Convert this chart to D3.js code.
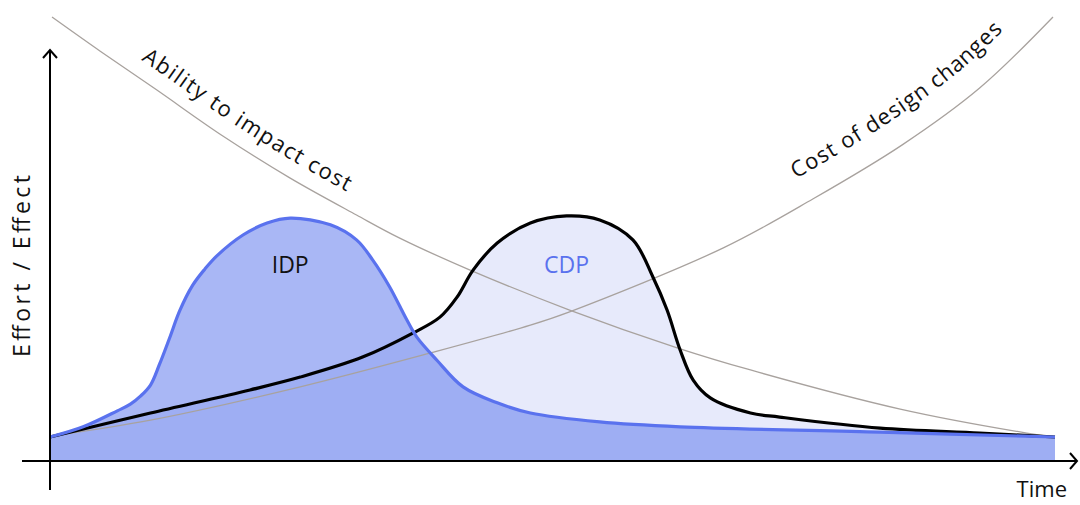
<!DOCTYPE html>
<html>
<head>
<meta charset="utf-8">
<script src="https://cdn.jsdelivr.net/npm/d3@7"></script>
<style>
  html, body { margin: 0; padding: 0; background: #ffffff; }
  svg { display: block; font-family: "Open Sans", "Lato", sans-serif; }
</style>
</head>
<body>
<svg id="chart" width="1080" height="505"></svg>
<script>
// Time runs 0..100 along the x axis, effort / effect 0..100 up the y axis.

// IDP (integrated design process) effort curve
const idpTime   = [0, 3.3, 6.7, 8.0, 9.0, 10.0, 10.9, 11.9, 12.9, 14.2, 15.4, 16.6, 19.2, 21.6, 23.9, 27.9, 30.5, 32.1, 33.8, 35.5, 36.5, 38.5, 41.1, 44.5, 47.8, 54.7, 62.7, 82.6, 100];
const idpEffort = [5.4, 7.7, 11.3, 12.8, 14.6, 17.1, 21.8, 27.7, 33.8, 39.6, 43.2, 46.2, 50.9, 53.6, 54.7, 53.2, 49.8, 45.3, 39.2, 31.8, 27.9, 22.7, 16.7, 13.1, 10.8, 8.8, 7.7, 6.5, 5.4];

// CDP (conventional design process) effort curve
const cdpTime   = [0, 10.0, 19.9, 24.9, 31.1, 36.1, 38.8, 40.5, 42.1, 44.5, 47.8, 51.4, 54.7, 58.0, 60.0, 61.4, 62.7, 64.0, 65.7, 69.7, 72.6, 82.6, 92.5, 100];
const cdpEffort = [5.4, 10.8, 16.0, 18.9, 23.4, 28.8, 32.4, 36.9, 43.0, 49.1, 53.6, 55.2, 54.3, 49.8, 41.4, 34.0, 25.0, 18.2, 14.2, 10.8, 9.9, 7.4, 6.3, 5.4];

// "Ability to impact cost" (falling)
const impactTime  = [0.2, 5.0, 10.6, 17.2, 23.9, 30.5, 34.8, 41.8, 51.7, 62.4, 69.7, 84.6, 97.2, 100];
const impactValue = [100, 92.3, 83.6, 73.2, 63.7, 55.4, 50.2, 43.0, 34.0, 25.5, 20.5, 11.7, 6.3, 5.4];

// "Cost of design changes" (rising)
const costTime  = [0, 10.0, 24.9, 37.8, 47.8, 51.7, 67.0, 75.9, 84.8, 92.5, 99.8];
const costValue = [5.6, 9.2, 16.7, 24.3, 30.6, 33.6, 48.0, 59.0, 71.2, 84.0, 100];

// Text
const xAxisTitle = "Time";
const yAxisTitle = "Effort / Effect";
const idpLabel = "IDP";
const cdpLabel = "CDP";
const impactLabel = "Ability to impact cost";
const costLabel = "Cost of design changes";

const svg = d3.select("#chart");

const x = d3.scaleLinear().domain([0, 100]).range([50, 1055]);
const y = d3.scaleLinear().domain([0, 100]).range([461, 17]);

const BLUE = "#5a72ee";
const GREY = "#a8a29e";

const smooth = d3.curveCatmullRom.alpha(0.5);
const line = d3.line()
  .x(d => x(d[0])).y(d => y(d[1]))
  .curve(smooth);
const area = d3.area()
  .x(d => x(d[0])).y0(y(0)).y1(d => y(d[1]))
  .curve(smooth);

const idp = d3.zip(idpTime, idpEffort);
const cdp = d3.zip(cdpTime, cdpEffort);
const impact = d3.zip(impactTime, impactValue);
const cost = d3.zip(costTime, costValue);

// filled areas: CDP below, translucent IDP above
svg.append("path").attr("d", area(cdp)).attr("fill", "#e7eafb");
svg.append("path").attr("d", area(idp))
  .attr("fill", "rgb(101,126,237)").attr("fill-opacity", 0.56);

// thin grey trend curves
const impactPath = svg.append("path").attr("id", "impact-curve")
  .attr("d", line(impact)).attr("fill", "none")
  .attr("stroke", GREY).attr("stroke-width", 1.3);
const costPath = svg.append("path").attr("id", "cost-curve")
  .attr("d", line(cost)).attr("fill", "none")
  .attr("stroke", GREY).attr("stroke-width", 1.3);

// effort curves
svg.append("path").attr("d", line(cdp)).attr("fill", "none")
  .attr("stroke", "#000").attr("stroke-width", 3.2).attr("stroke-linejoin", "round");
svg.append("path").attr("d", line(idp)).attr("fill", "none")
  .attr("stroke", BLUE).attr("stroke-width", 3.2).attr("stroke-linejoin", "round");

// axes with open arrowheads
const axes = svg.append("g").attr("stroke", "#000").attr("stroke-width", 2).attr("fill", "none");
const x0 = x(0), y0 = y(0);
axes.append("line").attr("x1", x0 - 28).attr("y1", y0).attr("x2", x(100) + 22).attr("y2", y0);
axes.append("polyline").attr("stroke-linejoin", "miter")
  .attr("points", `${x(100) + 15},${y0 - 8} ${x(100) + 22},${y0} ${x(100) + 15},${y0 + 8}`);
axes.append("line").attr("x1", x0).attr("y1", y0 + 29).attr("x2", x0).attr("y2", 50);
axes.append("polyline").attr("stroke-linejoin", "miter")
  .attr("points", `${x0 - 7},${58} ${x0},${50} ${x0 + 7},${58}`);

// axis titles
svg.append("text").attr("x", 1067).attr("y", 497).attr("text-anchor", "end")
  .attr("font-size", 22).attr("fill", "#111").text(xAxisTitle);
svg.append("text").attr("transform", "translate(30,266) rotate(-90)")
  .attr("text-anchor", "middle").attr("font-size", 23).attr("fill", "#111")
  .attr("textLength", 182).attr("lengthAdjust", "spacing").text(yAxisTitle);

// process labels
svg.append("text").attr("x", x(23.9)).attr("y", 273).attr("text-anchor", "middle")
  .attr("font-size", 23).attr("fill", "#111").text(idpLabel);
svg.append("text").attr("x", x(51.4)).attr("y", 273).attr("text-anchor", "middle")
  .attr("font-size", 23).attr("fill", BLUE).text(cdpLabel);

// find the arc length at which a path reaches a given screen x
function lengthAtX(node, px) {
  let lo = 0, hi = node.getTotalLength();
  for (let i = 0; i < 40; i++) {
    const mid = (lo + hi) / 2;
    if (node.getPointAtLength(mid).x < px) lo = mid; else hi = mid;
  }
  return lo;
}

// curve labels riding above the grey curves
svg.append("text").attr("font-size", 22).attr("fill", "#111").attr("dy", -16)
  .append("textPath").attr("href", "#impact-curve")
  .attr("startOffset", lengthAtX(impactPath.node(), 132))
  .attr("textLength", 246).attr("lengthAdjust", "spacing")
  .text(impactLabel);
svg.append("text").attr("font-size", 22).attr("fill", "#111").attr("dy", -26)
  .append("textPath").attr("href", "#cost-curve")
  .attr("startOffset", lengthAtX(costPath.node(), 809))
  .attr("textLength", 262).attr("lengthAdjust", "spacing")
  .text(costLabel);
</script>
</body>
</html>
